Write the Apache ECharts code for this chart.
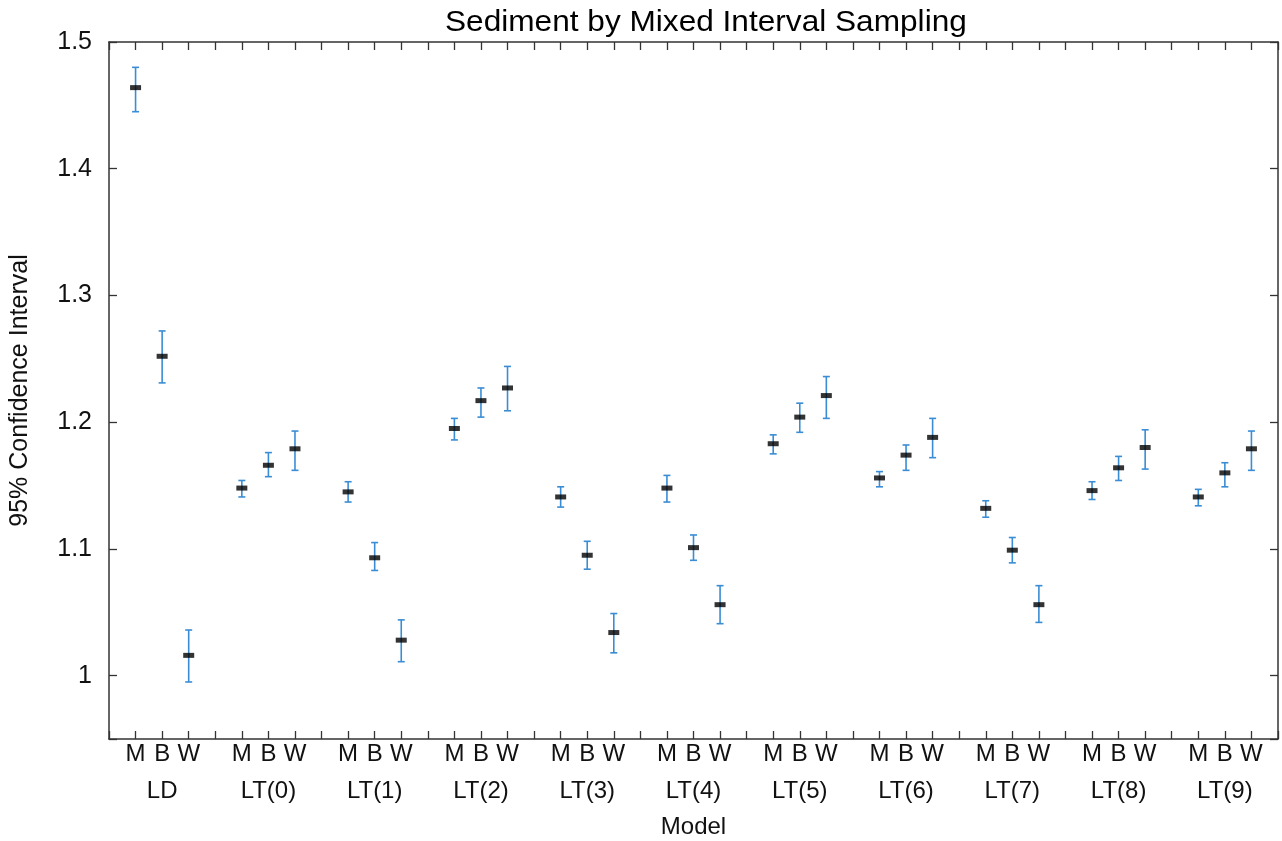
<!DOCTYPE html>
<html>
<head>
<meta charset="utf-8">
<script src="https://cdn.jsdelivr.net/npm/echarts@6/dist/echarts.min.js"></script>
<style>
  html, body { margin: 0; padding: 0; background: #fff; }
  #chart { width: 1282px; height: 841px; }
</style>
</head>
<body>
<div id="chart"></div>
<script>
// groups along the x axis, three sampling methods in each
const groups = ['LD', 'LT(0)', 'LT(1)', 'LT(2)', 'LT(3)', 'LT(4)', 'LT(5)', 'LT(6)', 'LT(7)', 'LT(8)', 'LT(9)'];
const methods = ['M', 'B', 'W'];

// mean + 95% interval
const meanM = [1.464, 1.148, 1.145, 1.195, 1.141, 1.148, 1.183, 1.156, 1.132, 1.146, 1.141];
const lowM  = [1.445, 1.141, 1.137, 1.186, 1.133, 1.137, 1.175, 1.149, 1.125, 1.139, 1.134];
const highM = [1.480, 1.154, 1.153, 1.203, 1.149, 1.158, 1.190, 1.161, 1.138, 1.153, 1.147];

const meanB = [1.252, 1.166, 1.093, 1.217, 1.095, 1.101, 1.204, 1.174, 1.099, 1.164, 1.160];
const lowB  = [1.231, 1.157, 1.083, 1.204, 1.084, 1.091, 1.192, 1.162, 1.089, 1.154, 1.149];
const highB = [1.272, 1.176, 1.105, 1.227, 1.106, 1.111, 1.215, 1.182, 1.109, 1.173, 1.168];

const meanW = [1.016, 1.179, 1.028, 1.227, 1.034, 1.056, 1.221, 1.188, 1.056, 1.180, 1.179];
const lowW  = [0.995, 1.162, 1.011, 1.209, 1.018, 1.041, 1.203, 1.172, 1.042, 1.163, 1.162];
const highW = [1.036, 1.193, 1.044, 1.244, 1.049, 1.071, 1.236, 1.203, 1.071, 1.194, 1.193];

const yTicksShown = [1, 1.1, 1.2, 1.3, 1.4, 1.5];

const means = [meanM, meanB, meanW];
const lows = [lowM, lowB, lowW];
const highs = [highM, highB, highW];

// slot 4*g + m on the x axis (every 4th slot is the gap)
let barData = [];
let meanData = [];
groups.forEach((g, gi) => {
  methods.forEach((m, mi) => {
    let x = gi * 4 + mi;
    barData.push([x, lows[mi][gi], highs[mi][gi]]);
    meanData.push([x, means[mi][gi]]);
  });
});

const axisColor = '#333';
const font = 'Liberation Sans, Arial, Helvetica, sans-serif';
const tick = { inside: true, length: 8, lineStyle: { color: axisColor, width: 1.3 } };
const line = { show: true, onZero: false, lineStyle: { color: axisColor, width: 1.5 } };

var chart = echarts.init(document.getElementById('chart'));
chart.setOption({
  animation: false,
  graphic: [
    {
      type: 'text',
      x: 445,
      y: 8,
      scaleX: 1.09,
      style: {
        text: 'Sediment by Mixed Interval Sampling',
        font: '29px ' + font,
        fill: '#000'
      }
    }
  ],
  grid: { left: 109, right: 4, top: 42, bottom: 102, outerBoundsMode: 'none' },
  xAxis: [
    {
      type: 'value',
      position: 'bottom',
      min: -1,
      max: 43,
      interval: 1,
      splitLine: { show: false },
      axisLine: line,
      axisTick: tick,
      axisLabel: {
        margin: 3,
        fontFamily: font,
        fontSize: 24,
        color: '#111',
        formatter: function (v) {
          if (v < 0 || v !== Math.round(v)) return '';
          let k = v % 4;
          return k < 3 ? methods[k] : '';
        }
      }
    },
    {
      type: 'value',
      position: 'bottom',
      min: -1,
      max: 43,
      interval: 1,
      splitLine: { show: false },
      axisLine: { show: false, onZero: false },
      axisTick: { show: false },
      axisLabel: {
        margin: 40,
        fontFamily: font,
        fontSize: 24,
        color: '#111',
        formatter: function (v) {
          if (v < 0 || v !== Math.round(v) || v % 4 !== 1) return '';
          return groups[(v - 1) / 4] || '';
        }
      },
      name: 'Model',
      nameLocation: 'middle',
      nameGap: 76,
      nameTextStyle: { fontFamily: font, fontSize: 24, color: '#111' }
    },
    {
      type: 'value',
      position: 'top',
      min: -1,
      max: 43,
      interval: 1,
      splitLine: { show: false },
      axisLine: line,
      axisTick: tick,
      axisLabel: { show: false }
    }
  ],
  yAxis: [
    {
      type: 'value',
      position: 'left',
      min: 0.95,
      max: 1.5,
      splitNumber: 5,
      splitLine: { show: false },
      axisLine: line,
      axisTick: tick,
      axisLabel: {
        margin: 17,
        fontFamily: font,
        fontSize: 25,
        color: '#111',
        formatter: function (v) {
          let r = Math.round(v * 100) / 100;
          return yTicksShown.indexOf(r) >= 0 ? String(r) : '';
        }
      },
      name: '95% Confidence Interval',
      nameLocation: 'middle',
      nameGap: 76,
      nameTextStyle: { fontFamily: font, fontSize: 25, color: '#111' }
    },
    {
      type: 'value',
      position: 'right',
      min: 0.95,
      max: 1.5,
      splitNumber: 5,
      splitLine: { show: false },
      axisLine: line,
      axisTick: tick,
      axisLabel: { show: false }
    }
  ],
  series: [
    {
      type: 'custom',
      name: 'interval',
      data: barData,
      renderItem: function (params, api) {
        let x = api.value(0);
        let top = api.coord([x, api.value(2)]);
        let bot = api.coord([x, api.value(1)]);
        let cap = 3.5;
        let style = { stroke: '#3a8dd4', lineWidth: 1.6 };
        return {
          type: 'group',
          children: [
            { type: 'line', shape: { x1: top[0], y1: top[1], x2: bot[0], y2: bot[1] }, style: style },
            { type: 'line', shape: { x1: top[0] - cap, y1: top[1], x2: top[0] + cap, y2: top[1] }, style: style },
            { type: 'line', shape: { x1: bot[0] - cap, y1: bot[1], x2: bot[0] + cap, y2: bot[1] }, style: style }
          ]
        };
      },
      z: 2
    },
    {
      type: 'scatter',
      name: 'mean',
      data: meanData,
      symbol: 'rect',
      symbolSize: [11, 5],
      itemStyle: { color: '#000' },
      z: 3
    }
  ]
});
</script>
</body>
</html>
